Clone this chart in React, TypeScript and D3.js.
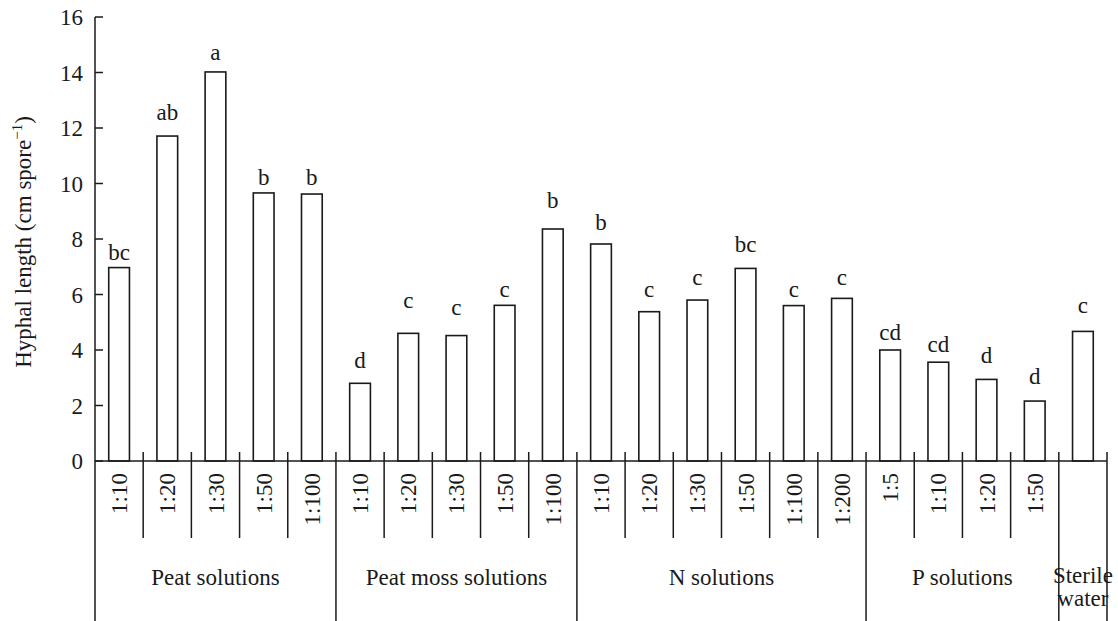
import React from "react";
import * as d3 from "d3";

const groupNames = ["Peat solutions", "Peat moss solutions", "N solutions", "P solutions", "Sterile water"];
const groupSizes = [5, 5, 6, 4, 1];
const tickLabels = [
  "1:10", "1:20", "1:30", "1:50", "1:100",
  "1:10", "1:20", "1:30", "1:50", "1:100",
  "1:10", "1:20", "1:30", "1:50", "1:100", "1:200",
  "1:5", "1:10", "1:20", "1:50",
  "",
];
const values = [
  6.97, 11.71, 14.02, 9.66, 9.62,
  2.8, 4.6, 4.52, 5.61, 8.36,
  7.82, 5.38, 5.8, 6.94, 5.6, 5.86,
  4.0, 3.56, 2.94, 2.16,
  4.67,
];
const letters = [
  "bc", "ab", "a", "b", "b",
  "d", "c", "c", "c", "b",
  "b", "c", "c", "bc", "c", "c",
  "cd", "cd", "d", "d",
  "c",
];
// height (in data units) at which each significance letter sits (mean + error, error bars not drawn)
const letterPos = [
  7.24, 12.29, 14.45, 9.95, 9.95,
  3.35, 5.51, 5.26, 5.92, 9.12,
  8.32, 5.92, 6.34, 7.54, 5.92, 6.34,
  4.36, 3.94, 3.54, 2.77,
  5.34,
];
const yTicks = [0, 2, 4, 6, 8, 10, 12, 14, 16];

const W = 1118;
const H = 621;
const X0 = 95;
const X1 = 1107;
const Y0 = 461;
const Y1 = 17;
const FONT = "'Liberation Serif', 'Times New Roman', serif";
const INK = "#1a1a1a";
const FS = 23;

export default function App() {
  const idx = values.map((_, i) => i);
  const x = d3.scaleBand<number>().domain(idx).range([X0, X1]).padding(0);
  const y = d3.scaleLinear().domain([0, 16]).range([Y0, Y1]);
  const bw = x.bandwidth();
  const barW = bw * 0.43;

  const groupStarts: number[] = [];
  let acc = 0;
  groupSizes.forEach((s) => {
    groupStarts.push(acc);
    acc += s;
  });
  const groupBoundaryIdx = new Set<number>([...groupStarts, acc]);

  const boundaries = d3.range(0, values.length + 1);
  const bx = (i: number) => (i < values.length ? (x(i) as number) : X1);

  return (
    <svg
      width={W}
      height={H}
      style={{ position: "absolute", left: 0, top: 0, background: "#fff" }}
      fontFamily={FONT}
    >
      <rect x={0} y={0} width={W} height={H} fill="#fff" />
      <line x1={X0} x2={X0} y1={y(16)} y2={H} stroke={INK} strokeWidth={1.5} />
      {yTicks.map((t) => (
        <g key={t}>
          <line x1={X0} x2={X0 + 8} y1={y(t)} y2={y(t)} stroke={INK} strokeWidth={1.5} />
          <text x={X0 - 12} y={y(t)} dy="0.35em" textAnchor="end" fontSize={FS} fill={INK}>
            {t}
          </text>
        </g>
      ))}
      {values.map((v, i) => {
        const cx = (x(i) as number) + bw / 2;
        return (
          <g key={i}>
            <rect
              x={cx - barW / 2}
              y={y(v)}
              width={barW}
              height={Y0 - y(v)}
              fill="#fff"
              stroke={INK}
              strokeWidth={1.6}
            />
            <text x={cx} y={y(letterPos[i])} textAnchor="middle" fontSize={FS} fill={INK}>
              {letters[i]}
            </text>
            {tickLabels[i] && (
              <text
                transform={`translate(${cx},473) rotate(-90)`}
                dy="0.35em"
                textAnchor="end"
                fontSize={FS}
                fill={INK}
              >
                {tickLabels[i]}
              </text>
            )}
          </g>
        );
      })}
      <line x1={X0} x2={X1} y1={Y0} y2={Y0} stroke={INK} strokeWidth={1.6} />
      {boundaries.map((b) => {
        const bxv = bx(b);
        if (b === 0) return null;
        const isGroup = groupBoundaryIdx.has(b);
        return (
          <line
            key={b}
            x1={bxv}
            x2={bxv}
            y1={Y0 - 9}
            y2={isGroup ? H : 538}
            stroke={INK}
            strokeWidth={1.5}
          />
        );
      })}
      {groupNames.map((g, gi) => {
        const start = groupStarts[gi];
        const end = start + groupSizes[gi];
        const cx = (bx(start) + bx(end)) / 2;
        if (g === "Sterile water") {
          return (
            <text key={g} textAnchor="middle" fontSize={FS} fill={INK}>
              <tspan x={cx} y={583}>Sterile</tspan>
              <tspan x={cx} y={606}>water</tspan>
            </text>
          );
        }
        return (
          <text key={g} x={cx} y={577} dy="0.35em" textAnchor="middle" fontSize={FS} fill={INK}>
            {g}
          </text>
        );
      })}
      <text
        transform={`translate(31,242) rotate(-90)`}
        textAnchor="middle"
        fontSize={FS}
        fill={INK}
      >
        Hyphal length (cm spore
        <tspan dy={-9} fontSize={15}>−1</tspan>
        <tspan dy={9}>)</tspan>
      </text>
    </svg>
  );
}
